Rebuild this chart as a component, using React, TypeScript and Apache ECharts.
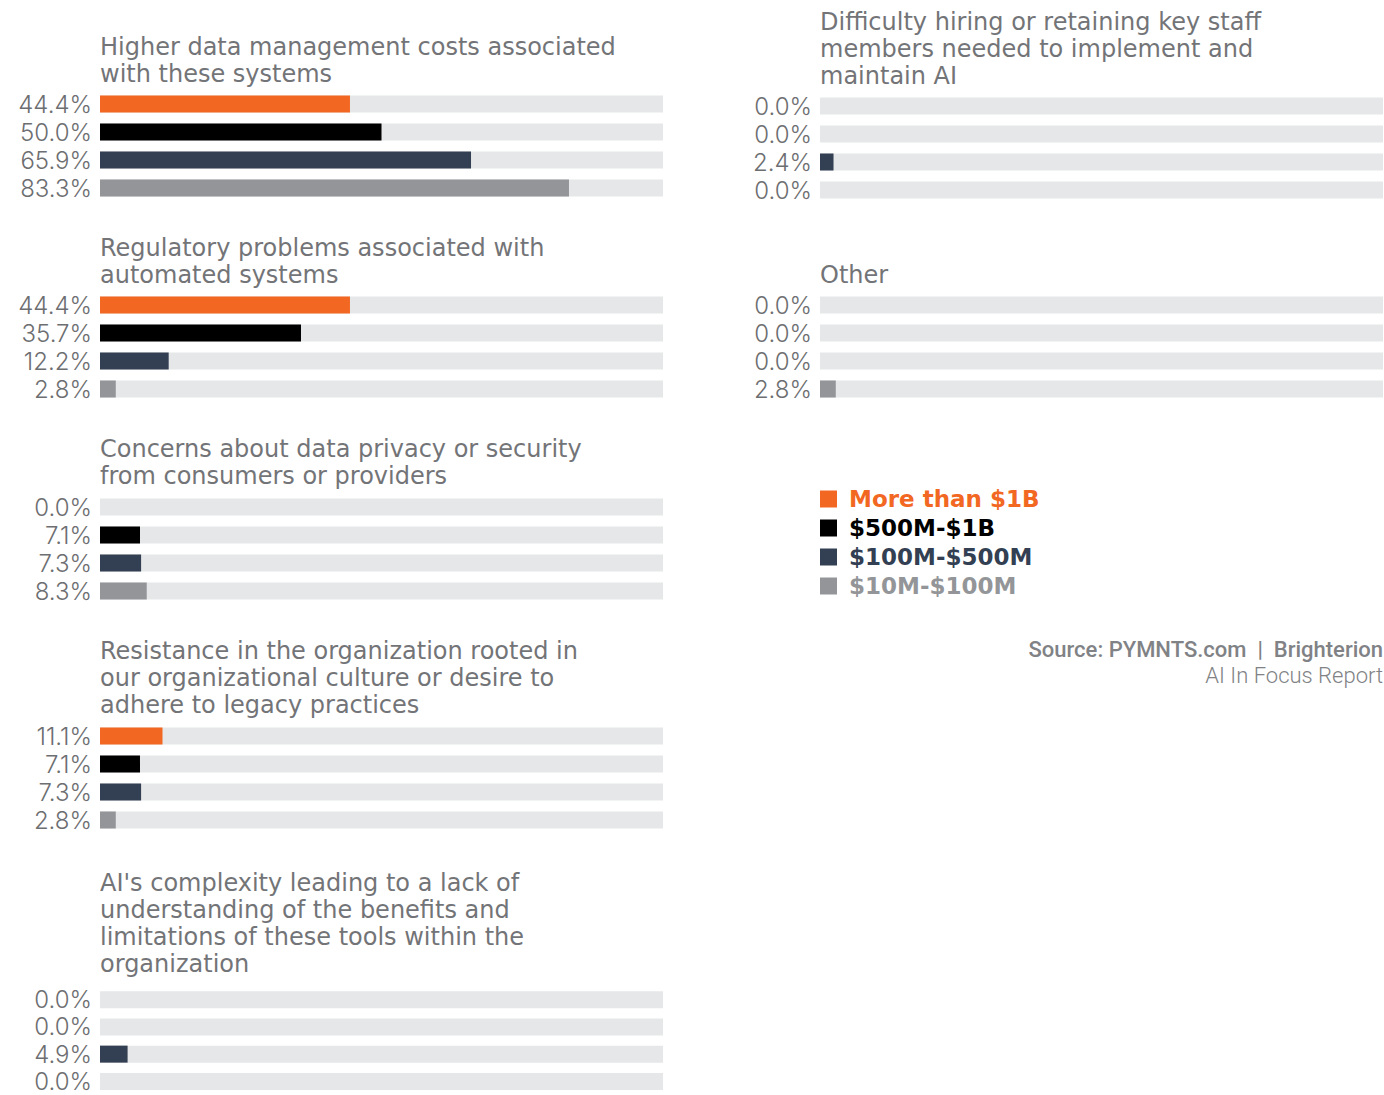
import React, { useEffect, useRef } from "react";
import * as echarts from "echarts";

const groups = ["More than $1B", "$500M-$1B", "$100M-$500M", "$10M-$100M"];

const titleDataMgmt = "Higher data management costs associated\nwith these systems";
const titleRegulatory = "Regulatory problems associated with\nautomated systems";
const titlePrivacy = "Concerns about data privacy or security\nfrom consumers or providers";
const titleResistance = "Resistance in the organization rooted in\nour organizational culture or desire to\nadhere to legacy practices";
const titleComplexity = "AI's complexity leading to a lack of\nunderstanding of the benefits and\nlimitations of these tools within the\norganization";
const titleStaff = "Difficulty hiring or retaining key staff\nmembers needed to implement and\nmaintain AI";
const titleOther = "Other";

const dataMgmt = [44.4, 50.0, 65.9, 83.3];
const regulatory = [44.4, 35.7, 12.2, 2.8];
const privacy = [0.0, 7.1, 7.3, 8.3];
const resistance = [11.1, 7.1, 7.3, 2.8];
const complexity = [0.0, 0.0, 4.9, 0.0];
const staff = [0.0, 0.0, 2.4, 0.0];
const other = [0.0, 0.0, 0.0, 2.8];

const sourceLine1 = "Source: PYMNTS.com  |  Brighterion";
const sourceLine2 = "AI In Focus Report";

const COLORS = ["#F26722", "#000000", "#333F52", "#939598"];
const TEXT = "#6D6E71";
const TITLE_FONT = "'DejaVu Sans', sans-serif";
const NUM_FONT = "Inter, sans-serif";

type Panel = { title: string; values: number[]; left: number; gridTop: number; titleTop: number };

const panels: Panel[] = [
  { title: titleDataMgmt, values: dataMgmt, left: 100, gridTop: 90, titleTop: 33 },
  { title: titleRegulatory, values: regulatory, left: 100, gridTop: 291, titleTop: 234 },
  { title: titlePrivacy, values: privacy, left: 100, gridTop: 493, titleTop: 435 },
  { title: titleResistance, values: resistance, left: 100, gridTop: 722, titleTop: 637 },
  { title: titleComplexity, values: complexity, left: 100, gridTop: 986, titleTop: 869 },
  { title: titleStaff, values: staff, left: 820, gridTop: 92, titleTop: 8 },
  { title: titleOther, values: other, left: 820, gridTop: 291, titleTop: 261 },
];

export default function App() {
  const ref = useRef<HTMLDivElement>(null);
  useEffect(() => {
    if (!ref.current) return;
    const chart = echarts.init(ref.current, null, { renderer: "svg" });
    const W = 563;
    const grids = panels.map((p) => ({ left: p.left, top: p.gridTop, width: W, height: 112 }));
    const xAxes = panels.map((_, i) => ({ type: "value", gridIndex: i, min: 0, max: 100, show: false }));
    const yAxes = panels.map((_, i) => ({
      type: "category",
      gridIndex: i,
      data: groups,
      inverse: true,
      show: false,
    }));
    const series = panels.map((p, i) => ({
      type: "bar",
      xAxisIndex: i,
      yAxisIndex: i,
      barWidth: 17,
      showBackground: true,
      backgroundStyle: { color: "#E6E7E8" },
      data: p.values.map((v, j) => ({ value: v, itemStyle: { color: COLORS[j] } })),
      label: {
        show: true,
        position: "left",
        distance: 8,
        formatter: (d: any) => Number(d.value).toFixed(1) + "%",
        fontFamily: NUM_FONT,
        fontWeight: 300,
        fontSize: 24,
        lineHeight: 22,
        color: TEXT,
      },
    }));
    const graphics: any[] = panels.map((p) => ({
      type: "text",
      left: p.left,
      top: p.titleTop,
      style: {
        text: p.title,
        fontFamily: TITLE_FONT,
        fontWeight: 400,
        fontSize: 24,
        lineHeight: 27,
        fill: "#737477",
      },
    }));
    const legendY = [499, 528, 557, 586];
    groups.forEach((g, j) => {
      graphics.push({
        type: "rect",
        shape: { x: 820, y: legendY[j] - 8.5, width: 17, height: 17 },
        style: { fill: COLORS[j] },
      });
      graphics.push({
        type: "text",
        x: 849,
        y: legendY[j],
        style: {
          text: g,
          fontFamily: "'DejaVu Sans', sans-serif",
          fontWeight: 700,
          fontSize: 23,
          fill: COLORS[j],
          textVerticalAlign: "middle",
        },
      });
    });
    graphics.push({
      type: "text",
      x: 1383,
      y: 649,
      style: {
        text: sourceLine1,
        fontFamily: "Roboto, sans-serif",
        fontWeight: 500,
        fontSize: 22,
        fill: "#808285",
        textAlign: "right",
        textVerticalAlign: "middle",
      },
    });
    graphics.push({
      type: "text",
      x: 1383,
      y: 675,
      style: {
        text: sourceLine2,
        fontFamily: "Roboto, sans-serif",
        fontWeight: 300,
        fontSize: 22,
        fill: "#808285",
        textAlign: "right",
        textVerticalAlign: "middle",
      },
    });
    chart.setOption({
      animation: false,
      backgroundColor: "#FFFFFF",
      grid: grids,
      xAxis: xAxes,
      yAxis: yAxes,
      series,
      graphic: graphics,
    });
    return () => chart.dispose();
  }, []);
  return (
    <div
      ref={ref}
      style={{ position: "absolute", left: 0, top: 0, width: 1384, height: 1095 }}
    />
  );
}
